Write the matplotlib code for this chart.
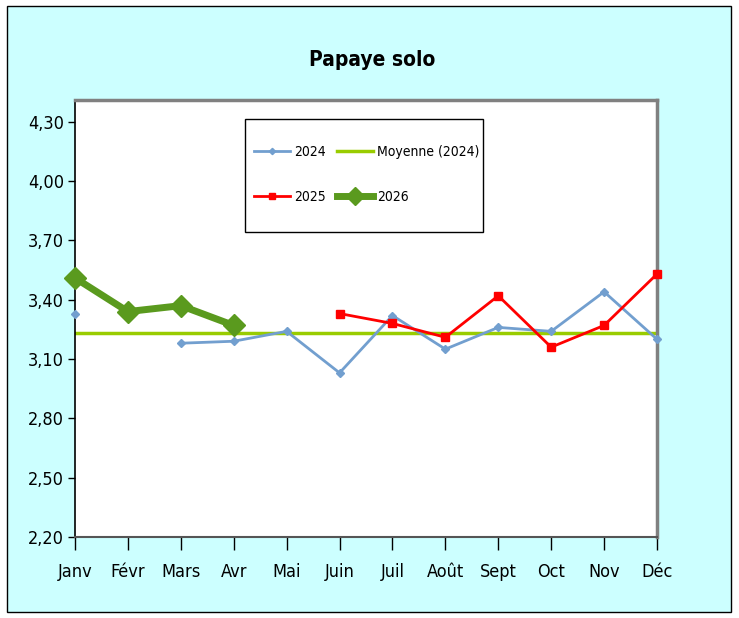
import matplotlib.pyplot as plt
from matplotlib.patches import Rectangle
import numpy as np

mois = ['Janv', 'Févr', 'Mars', 'Avr', 'Mai', 'Juin', 'Juil', 'Août', 'Sept', 'Oct', 'Nov', 'Déc']
prix_2024 = [3.33, np.nan, 3.18, 3.19, 3.24, 3.03, 3.32, 3.15, 3.26, 3.24, 3.44, 3.20]
prix_2025 = [np.nan, np.nan, np.nan, np.nan, np.nan, 3.33, 3.28, 3.21, 3.42, 3.16, 3.27, 3.53]
prix_2026 = [3.51, 3.34, 3.37, 3.27]
moyenne_2024 = 3.234
yticks = [2.20, 2.50, 2.80, 3.10, 3.40, 3.70, 4.00, 4.30]

plt.rcParams['font.family'] = ['DejaVu Sans']
plt.rcParams['font.stretch'] = 'condensed'

W, H = 739, 618
fig = plt.figure(figsize=(W / 100, H / 100), dpi=100)
fig.patch.set_facecolor('white')
fig.patches.append(Rectangle((7 / W, 6 / H), 724 / W, 606 / H, transform=fig.transFigure,
                             facecolor='#ccffff', edgecolor='black', linewidth=1, zorder=-1))

ax = fig.add_axes([75 / W, 81 / H, 582 / W, 437 / H])
ax.set_facecolor('white')

x = np.arange(len(mois))
ax.axhline(moyenne_2024, color='#99cc00', linewidth=2.5, label='Moyenne (2024)', zorder=2)
ax.plot(x, prix_2024, color='#729fcf', linewidth=2, marker='D', markersize=4,
        label='2024', zorder=3, clip_on=False)
ax.plot(x, prix_2025, color='#ff0000', linewidth=2, marker='s', markersize=6,
        label='2025', zorder=4, clip_on=False)
ax.plot(x[:len(prix_2026)], prix_2026, color='#5a9a1e', linewidth=5, marker='D', markersize=11,
        label='2026', zorder=5, clip_on=False)

ax.set_xlim(0, 11)
ax.set_ylim(2.20, 4.41)
ax.set_xticks(x)
ax.set_xticklabels(mois, fontsize=13)
ax.set_yticks(yticks)
ax.set_yticklabels([f'{v:.2f}'.replace('.', ',') for v in yticks], fontsize=13)
ax.tick_params(axis='x', direction='out', length=9, width=1, pad=10)
ax.tick_params(axis='y', direction='out', length=5, width=1, pad=3)

ax.spines['left'].set_color('black')
ax.spines['bottom'].set_color('#555555')
ax.spines['top'].set_color('#808080')
ax.spines['right'].set_color('#808080')
ax.spines['top'].set_linewidth(2.5)
ax.spines['right'].set_linewidth(2.5)
ax.spines['left'].set_linewidth(1.2)
ax.spines['bottom'].set_linewidth(1.5)

# legend box drawn separately so its padding can differ per side
fig.patches.append(Rectangle((245 / W, 1 - 232 / H), 238 / W, 113 / H, transform=fig.transFigure,
                             facecolor='white', edgecolor='black', linewidth=1, zorder=10))
handles, labels = ax.get_legend_handles_labels()
order = [labels.index(l) for l in ['2024', '2025', 'Moyenne (2024)', '2026']]
leg = fig.legend([handles[i] for i in order], [labels[i] for i in order], ncol=2,
                 loc='upper left', bbox_to_anchor=(254 / W, 1 - 145 / H), fontsize=10,
                 frameon=False, borderpad=0, borderaxespad=0,
                 labelspacing=2.2, columnspacing=0.8, handlelength=2.6, handletextpad=0.3,
                 markerscale=0.8)
leg.set_zorder(11)

fig.text(372 / W, 1 - 60 / H, 'Papaye solo', ha='center', va='center',
         fontsize=15, fontweight='bold')

fig.savefig('out.png', dpi=100, facecolor=fig.get_facecolor())
